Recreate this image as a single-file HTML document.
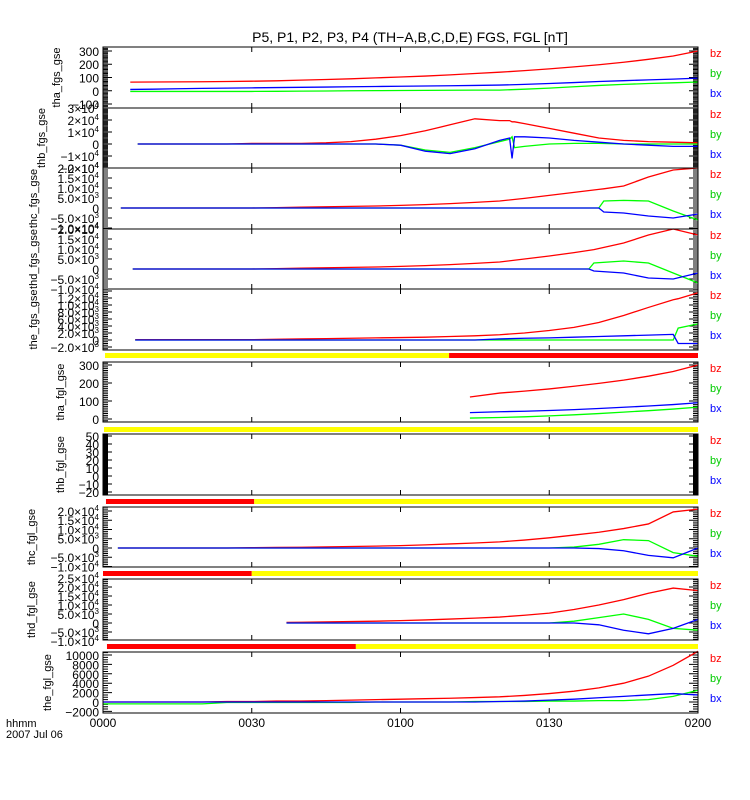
<!DOCTYPE html>
<html><head><meta charset="utf-8"><style>
html,body{margin:0;padding:0;background:#fff;}
svg{display:block;font-family:"Liberation Sans",sans-serif;}
</style></head><body>
<svg id="chart" width="750" height="800" viewBox="0 0 750 800">
<rect x="0" y="0" width="750" height="800" fill="#fff"/>
<text x="410" y="42" font-size="14" text-anchor="middle">P5, P1, P2, P3, P4 (TH−A,B,C,D,E) FGS, FGL [nT]</text>
<g id="panels"></g>
<text x="6" y="727" font-size="11">hhmm</text>
<text x="6" y="738" font-size="11">2007 Jul 06</text>
</svg>
<script>
// x-axis data
const xTicks = [0, 30, 60, 90, 120];
const xTickLabels = ["0000", "0030", "0100", "0130", "0200"];

// Panel 1: tha_fgs_gse (nT)
const t1 = [5.5,10,15,20,25,30,35,40,45,50,55,60,65,70,75,80,85,90,95,100,105,110,115,120];
const bz1 = [65,66,67,68,70,72,75,80,85,90,97,104,111,120,130,140,152,165,180,196,215,237,262,300];
const by1 = [-5,-5,-5,-5,-5,-5,-4,-3,-2,0,1,2,3,4,5,5,12,20,30,40,48,55,60,66];
const bx1 = [10,12,15,18,20,22,24,26,28,30,32,34,36,38,40,43,48,55,62,70,76,82,88,95];

// Panel 2: thb_fgs_gse (1e3 nT)
const t2 = [7,10,15,20,25,30,35,40,45,50,55,60,65,70,75,80,82,82.5,83,85,90,95,100,105,110,115,120];
const bz2 = [0,0,0,0,0,0.5,0.5,0.5,1,2,4,7,11,16,21,19.5,19.5,18.5,18.5,17,13,9,5,3,2,1.5,1];
const by2 = [0,0,0,0,0,0,0,0,0,0,0,-1,-5,-7,-3,2,4,6,-3,-2,0,0.5,0.5,0,0,0,0];
const bx2 = [0,0,0,0,0,0,0,0,0,0,0,-1,-6,-8,-4,3,5,-12,6,6,5,3,1.5,0,-1,-2,-2];

// Panel 3: thc_fgs_gse (1e3 nT)
const t3 = [3.6,10,15,20,25,30,35,40,45,50,55,60,65,70,75,80,85,90,95,100,101,105,110,115,120];
const bz3 = [0,0,0,0,0,0,0.2,0.4,0.6,0.8,1,1.3,1.7,2.2,2.8,3.5,4.8,6.3,7.8,9.3,9.6,11,15.5,19,20];
const by3 = [0,0,0,0,0,0,0,0,0,0,0,0,0,0,0,0,0,0,0,0,3.5,3.8,3.5,-1.5,-6];
const bx3 = [0,0,0,0,0,0,0,0,0,0,0,0,0,0,0,0,0,0,0,0,-2,-2.5,-4,-5,-3];

// Panel 4: thd_fgs_gse (1e3 nT)
const t4 = [6,10,15,20,25,30,35,40,45,50,55,60,65,70,75,80,85,90,95,98,99,105,110,115,120];
const bz4 = [0,0,0,0,0,0,0.2,0.4,0.6,0.8,1,1.3,1.7,2.2,2.8,3.5,5,6.5,8.2,9.3,9.7,13,17,20,17];
const by4 = [0,0,0,0,0,0,0,0,0,0,0,0,0,0,0,0,0,0,0,0,3,4,3,-2,-7];
const bx4 = [0,0,0,0,0,0,0,0,0,0,0,0,0,0,0,0,0,0,0,0,-1,-2,-4.5,-5,-2];

// Panel 5: the_fgs_gse (1e3 nT)
const t5 = [6.5,10,15,20,25,30,35,40,45,50,55,60,65,70,75,80,85,90,95,100,105,110,115,116,120];
const bz5 = [0.1,0.1,0.1,0.1,0.1,0.1,0.2,0.3,0.4,0.5,0.6,0.7,0.8,1,1.2,1.5,2,2.7,3.6,5,7,9.3,11.5,11.8,13.5];
const by5 = [0,0,0,0,0,0,0,0,0,0,0,0,0,0,0,0,0,0,0,0,0,0,0,3.4,4.6];
const bx5 = [0,0,0,0,0,0,0,0,0,0,0,0,0,0,0,0.3,0.5,0.6,0.8,1,1.2,1.4,1.6,-1,-1];

// Panel 6: tha_fgl_gse (nT)
const t6 = [74,80,85,90,95,100,105,110,115,120];
const bz6 = [122,144,155,167,182,198,216,238,264,300];
const by6 = [5,8,12,17,23,30,38,46,55,66];
const bx6 = [35,40,43,47,52,58,65,72,80,90];

// Panel 7: thb_fgl_gse (no data)
const t7 = [];
const bz7 = [];
const by7 = [];
const bx7 = [];

// Panel 8: thc_fgl_gse (1e3 nT)
const t8 = [3,10,15,20,25,30,35,40,45,50,55,60,65,70,75,80,85,90,95,100,105,110,115,120];
const bz8 = [0,0,0,0,0,0.2,0.3,0.4,0.6,0.8,1,1.3,1.7,2.2,2.7,3.3,4.3,5.5,7,8.5,10.5,13,19.5,21];
const by8 = [0,0,0,0,0,0,0,0,0,0,0,0,0,0,0,0,0,0,0.5,2,4.5,4,-2.5,-4.5];
const bx8 = [0,0,0,0,0,0,0,0,0,0,0,0,0,0,0,0,0,0,0,-0.3,-1.5,-4,-5.3,0];

// Panel 9: thd_fgl_gse (1e3 nT)
const t9 = [37,40,45,50,55,60,65,70,75,80,85,90,95,100,105,110,115,120];
const bz9 = [0.3,0.4,0.6,0.8,1,1.3,1.7,2.2,2.7,3.3,4.3,5.5,7.5,10,13,16.5,19.4,18];
const by9 = [0,0,0,0,0,0,0,0,0,0,0,0,1,3,5,2,-3,-4];
const bx9 = [0,0,0,0,0,0,0,0,0,0,0,0,0,-1,-4,-6,-3,2];

// Panel 10: the_fgl_gse (1e3 nT)
const t10 = [0,5,10,15,20,25,30,35,40,45,50,55,60,65,70,75,80,85,90,95,100,105,110,115,120];
const bz10 = [0,0,0,0,0,0.1,0.1,0.2,0.2,0.3,0.4,0.5,0.6,0.7,0.8,0.95,1.1,1.4,1.8,2.3,3,4,5.5,7.8,10.8];
const by10 = [-0.4,-0.4,-0.4,-0.4,-0.4,-0.1,-0.1,-0.1,-0.1,-0.1,-0.1,0,0,0,0,0.1,0.1,0.1,0.2,0.2,0.3,0.3,0.5,1.2,2.5];
const bx10 = [0,0,0,0,0,0,0,0,0,0,0,0,0,0,0,0,0.1,0.2,0.4,0.6,0.9,1.2,1.5,1.8,1.5];

// Status bars above panels (start minute, end minute, colour)
const barP5 = [[0.4,69.8,"#ffff00"],[69.8,120,"#ff0000"]];
const barP6 = [[0.2,120,"#ffff00"]];
const barP7 = [[0.6,30.5,"#ff0000"],[30.5,120,"#ffff00"]];
const barP8 = [[0,30,"#ff0000"],[30,120,"#ffff00"]];
const barP9 = [[0.8,51,"#ff0000"],[51,120,"#ffff00"]];

const NS = "http://www.w3.org/2000/svg";
const X0 = 103, X1 = 698;
function xScale(t){ return X0 + (t/120)*(X1-X0); }

function mk(tag, attrs, parent){
  const el = document.createElementNS(NS, tag);
  for (const k in attrs) el.setAttribute(k, attrs[k]);
  parent.appendChild(el);
  return el;
}

const panels = [
  {name:"tha-fgs", title:"tha_fgs_gse", top:47, bot:108, ymin:-130, ymax:330, major:100, minor:10, tmin:-100, tmax:300, fmt:"int", lx:60, t:t1, bz:bz1, by:by1, bx:bx1, scale:1},
  {name:"thb-fgs", title:"thb_fgs_gse", top:108, bot:168, ymin:-20000, ymax:30000, major:10000, minor:1000, tmin:-20000, tmax:30000, fmt:"e0", lx:45, t:t2, bz:bz2, by:by2, bx:bx2, scale:1000},
  {name:"thc-fgs", title:"thc_fgs_gse", top:168, bot:229, ymin:-10500, ymax:20000, major:5000, minor:1000, tmin:-10000, tmax:20000, fmt:"e1", lx:37, t:t3, bz:bz3, by:by3, bx:bx3, scale:1000},
  {name:"thd-fgs", title:"thd_fgs_gse", top:229, bot:289, ymin:-10000, ymax:20000, major:5000, minor:1000, tmin:-10000, tmax:20000, fmt:"e1", lx:37, t:t4, bz:bz4, by:by4, bx:bx4, scale:1000},
  {name:"the-fgs", title:"the_fgs_gse", top:289, bot:350, ymin:-2860, ymax:14570, major:2000, minor:500, tmin:-2000, tmax:12000, fmt:"e1", lx:37, t:t5, bz:bz5, by:by5, bx:bx5, scale:1000, bar:barP5, barY:353},
  {name:"tha-fgl", title:"tha_fgl_gse", top:362, bot:422, ymin:-17, ymax:317, major:100, minor:10, tmin:0, tmax:300, fmt:"int", lx:64, t:t6, bz:bz6, by:by6, bx:bx6, scale:1, bar:barP6, barY:427},
  {name:"thb-fgl", title:"thb_fgl_gse", top:434, bot:495, ymin:-23.75, ymax:52.5, major:10, minor:0.5, tmin:-20, tmax:50, fmt:"int", lx:64, t:t7, bz:bz7, by:by7, bx:bx7, scale:1, bar:barP7, barY:499},
  {name:"thc-fgl", title:"thc_fgl_gse", top:507, bot:567, ymin:-10270, ymax:22160, major:5000, minor:1000, tmin:-10000, tmax:20000, fmt:"e1", lx:35, t:t8, bz:bz8, by:by8, bx:bx8, scale:1000, bar:barP8, barY:571},
  {name:"thd-fgl", title:"thd_fgl_gse", top:579, bot:640, ymin:-9440, ymax:24440, major:5000, minor:1000, tmin:-10000, tmax:25000, fmt:"e1", lx:35, t:t9, bz:bz9, by:by9, bx:bx9, scale:1000, bar:barP9, barY:644},
  {name:"the-fgl", title:"the_fgl_gse", top:652, bot:713, ymin:-2340, ymax:10640, major:2000, minor:500, tmin:-2000, tmax:10000, fmt:"int", lx:51, t:t10, bz:bz10, by:by10, bx:bx10, scale:1000}
];

function fmtLabel(v, fmt, g){
  if (fmt === "int" || v === 0) {
    mk("tspan", {}, g).textContent = (v < 0 ? "−" : "") + Math.abs(v);
    return;
  }
  const e = Math.floor(Math.log10(Math.abs(v)) + 1e-9);
  const m = Math.abs(v) / Math.pow(10, e);
  const ms = fmt === "e0" ? String(Math.round(m)) : m.toFixed(1);
  mk("tspan", {}, g).textContent = (v < 0 ? "−" : "") + ms + "×10";
  const sup = mk("tspan", {dy:"-5", "font-size":"8"}, g);
  sup.textContent = String(e);
}

const root = document.getElementById("panels");
panels.forEach(function(p){
  const g = mk("g", {}, root);
  
  
  const yScale = function(v){ return p.bot - (v - p.ymin) / (p.ymax - p.ymin) * (p.bot - p.top); };

  if (p.bar) {
    p.bar.forEach(function(b){
      const r = mk("rect", {x:xScale(b[0]), y:p.barY, width:xScale(b[1]) - xScale(b[0]), height:5, fill:b[2]}, g);
      
      
    });
  }

  const tickPath = [];
  const start = Math.ceil(p.ymin / p.minor) * p.minor;
  for (let v = start; v <= p.ymax + 1e-9; v += p.minor) {
    const y = yScale(v);
    const isMajor = Math.abs(v / p.major - Math.round(v / p.major)) < 1e-6;
    const len = isMajor ? 9 : 5;
    tickPath.push("M" + X0 + " " + y.toFixed(2) + "h" + len);
    tickPath.push("M" + X1 + " " + y.toFixed(2) + "h" + (-len));
  }
  xTicks.forEach(function(t){
    const x = xScale(t);
    tickPath.push("M" + x + " " + p.top + "v5");
    tickPath.push("M" + x + " " + p.bot + "v-5");
  });
  const tp = mk("path", {d:tickPath.join(""), stroke:"#000", "stroke-width":"1", fill:"none"}, g);
  
  

  for (let v = p.tmin; v <= p.tmax + 1e-9; v += p.major) {
    const lt = mk("text", {x:X0 - 4, y:(yScale(v) + 5).toFixed(1), "font-size":"12", "text-anchor":"end"}, g);
    
    
    fmtLabel(Math.round(v * 1000) / 1000, p.fmt, lt);
  }

  const cy = (p.top + p.bot) / 2;
  const yt = mk("text", {x:p.lx, y:cy, "font-size":"11", "text-anchor":"middle", transform:"rotate(-90 " + p.lx + " " + cy + ")"}, g);
  
  
  yt.textContent = p.title;

  const series = [["bz", p.bz, "#ff0000"], ["by", p.by, "#00ff00"], ["bx", p.bx, "#0000ff"]];
  series.forEach(function(s){
    if (!p.t.length) return;
    let d = "";
    for (let i = 0; i < p.t.length; i++) {
      const x = xScale(p.t[i]).toFixed(2);
      const y = yScale(s[1][i] * p.scale).toFixed(2);
      d += (i === 0 ? "M" : "L") + x + " " + y;
    }
    const path = mk("path", {d:d, stroke:s[2], "stroke-width":"1.3", fill:"none"}, g);
    
    
  });

  const fr = mk("rect", {x:X0, y:p.top, width:X1 - X0, height:p.bot - p.top, fill:"none", stroke:"#000", "stroke-width":"1"}, g);
  
  

  const legend = [["bz", "#ff0000", 10], ["by", "#00cc00", 30], ["bx", "#0000ff", 50]];
  legend.forEach(function(l){
    const lt = mk("text", {x:710, y:p.top + l[2], "font-size":"11", fill:l[1]}, g);
    
    
    lt.textContent = l[0];
  });
});

xTicks.forEach(function(t, i){
  const tx = mk("text", {x:xScale(t), y:727, "font-size":"12", "text-anchor":"middle"}, document.getElementById("chart"));
  
  
  tx.textContent = xTickLabels[i];
});
</script>
</body></html>
